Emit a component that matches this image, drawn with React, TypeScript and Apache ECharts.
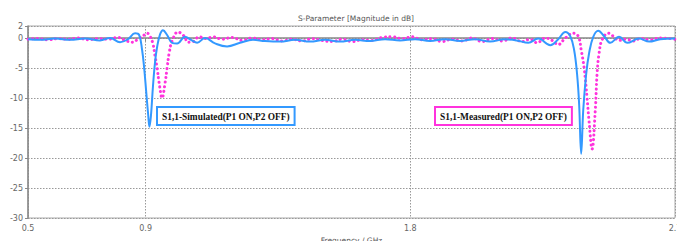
import React, { useEffect, useRef } from "react";
import * as echarts from "echarts";

const simFreq = [0.5, 0.541, 0.592, 0.643, 0.694, 0.745, 0.779, 0.813, 0.84, 0.864, 0.878, 0.888, 0.895, 0.902, 0.909, 0.913, 0.918, 0.925, 0.932, 0.939, 0.949, 0.959, 0.973, 0.99, 1.007, 1.034, 1.054, 1.075, 1.102, 1.136, 1.177, 1.221, 1.265, 1.306, 1.357, 1.408, 1.459, 1.51, 1.561, 1.612, 1.663, 1.714, 1.765, 1.816, 1.867, 1.918, 1.969, 2.02, 2.071, 2.122, 2.162, 2.201, 2.235, 2.276, 2.303, 2.327, 2.344, 2.357, 2.367, 2.374, 2.381, 2.388, 2.398, 2.408, 2.422, 2.439, 2.459, 2.48, 2.51, 2.537, 2.578, 2.612, 2.65, 2.7];
const simDb = [-0.2, -0.3, -0.1, -0.3, -0.1, -0.4, 0.0, -0.7, -0.2, 0.8, 0.5, -2, -5, -9, -13, -14.8, -13, -8, -4, -1.5, 0.6, 1.3, 0.5, -0.8, -0.9, 0.2, -0.3, -0.8, 0.0, -0.9, -1.4, -0.8, -0.3, -0.5, -0.6, -0.3, -0.6, -0.3, -0.6, -0.3, -0.5, -0.2, -0.4, -0.2, -0.5, -0.2, -0.5, -0.2, -0.6, -0.2, -0.4, -0.8, -0.1, -1.2, -0.2, 1.0, 0.3, -2, -6, -11, -19.3, -12, -6, -2.5, 0.2, 1.2, 0.3, -0.8, 0.2, -0.8, -0.1, -0.6, -0.2, -0.1];

const measFreq = [0.5, 0.534, 0.568, 0.602, 0.636, 0.67, 0.704, 0.738, 0.772, 0.806, 0.83, 0.854, 0.874, 0.895, 0.905, 0.915, 0.925, 0.932, 0.939, 0.946, 0.956, 0.966, 0.973, 0.98, 0.99, 1.01, 1.031, 1.044, 1.061, 1.082, 1.105, 1.129, 1.16, 1.194, 1.228, 1.262, 1.296, 1.33, 1.364, 1.398, 1.432, 1.466, 1.5, 1.534, 1.568, 1.602, 1.636, 1.67, 1.704, 1.738, 1.772, 1.806, 1.84, 1.874, 1.908, 1.942, 1.976, 2.01, 2.044, 2.078, 2.112, 2.146, 2.18, 2.207, 2.231, 2.259, 2.282, 2.303, 2.327, 2.354, 2.371, 2.381, 2.391, 2.401, 2.408, 2.418, 2.429, 2.435, 2.442, 2.452, 2.473, 2.49, 2.51, 2.534, 2.558, 2.582, 2.616, 2.65, 2.7];
const measDb = [-0.2, -0.1, -0.3, -0.1, -0.2, 0.0, -0.3, -0.1, -0.2, 0.1, -0.4, -0.7, -0.2, 0.5, 0.8, 0.3, -1, -3, -5, -7.5, -10, -7.5, -5, -2.5, -0.5, 1.0, 0.3, -0.7, -0.6, 0.2, -0.1, 0.2, -0.2, 0.1, -0.4, 0.0, -0.3, -0.1, -0.5, -0.2, -0.5, -0.1, -0.4, -0.6, -0.2, -0.6, -0.3, -0.4, 0.1, 0.2, -0.1, 0.2, -0.3, -0.1, -0.6, -0.2, -0.5, 0.0, -0.6, -0.1, -0.5, 0.0, -0.6, -0.2, -0.8, 0.0, -0.4, -1.1, 0.0, 0.8, 0.3, -2, -5, -10, -14, -18.5, -12, -6, -2.5, -0.3, 0.8, 0.3, -0.4, -0.2, -0.5, -0.1, -0.3, 0.0, -0.2];

const xTicks = [0.5, 0.9, 1.8, 2.7];
const yTicks = [-30, -25, -20, -15, -10, -5, 0, 2];

const titleText = "S-Parameter [Magnitude in dB]";
const xName = "Frequency / GHz";
const simLabel = "S1,1-Simulated(P1 ON,P2 OFF)";
const measLabel = "S1,1-Measured(P1 ON,P2 OFF)";

export default function App() {
  const ref = useRef<HTMLDivElement>(null);
  useEffect(() => {
    if (!ref.current) return;
    const chart = echarts.init(ref.current, undefined, { renderer: "svg" });
    const labelStyle = { color: "#666", fontSize: 8, fontFamily: "DejaVu Sans" };
    chart.setOption({
      animation: false,
      title: {
        text: titleText,
        left: 351,
        top: 9,
        textAlign: "center",
        textStyle: { fontSize: 7.5, fontWeight: "normal", color: "#555", fontFamily: "DejaVu Sans" },
      },
      grid: {
        left: 28, top: 26, right: 2, bottom: 23,
        outerBoundsMode: "none",
        containLabel: false,
        show: true, borderColor: "#aaa", borderWidth: 1, backgroundColor: "transparent",
      },
      xAxis: {
        type: "value",
        min: 0.5,
        max: 2.7,
        name: xName,
        nameLocation: "middle",
        nameGap: 18,
        nameTextStyle: { fontSize: 7.5, color: "#555", fontFamily: "DejaVu Sans" },
        axisLine: { lineStyle: { color: "#888", width: 1.5 } },
        axisTick: { show: true, length: 3, customValues: xTicks, lineStyle: { color: "#888" } },
        axisLabel: { ...labelStyle, customValues: xTicks, margin: 6 },
        splitLine: { show: true, lineStyle: { type: [1.5, 1.5], color: "#999", width: 1 } },
      },
      yAxis: {
        type: "value",
        min: -30,
        max: 2,
        axisLine: { show: true, lineStyle: { color: "#888", width: 1.5 } },
        axisTick: { show: true, length: 3, customValues: yTicks, lineStyle: { color: "#888" } },
        axisLabel: { ...labelStyle, customValues: yTicks, margin: 5 },
        splitLine: { show: true, lineStyle: { type: [1.5, 1.5], color: "#999", width: 1 } },
      },
      series: [
        {
          type: "line",
          data: simFreq.map((f, i) => [f, simDb[i]]),
          smooth: 0.4,
          showSymbol: false,
          lineStyle: { color: "#3399ff", width: 2 },
          z: 3,
        },
        {
          type: "line",
          data: measFreq.map((f, i) => [f, measDb[i]]),
          smooth: 0.4,
          showSymbol: false,
          lineStyle: { color: "#ff33dd", width: 3, type: [0.1, 4.5], cap: "round" },
          z: 2,
        },
      ],
      graphic: [
        {
          type: "text",
          left: 156,
          top: 106,
          z: 10,
          style: {
            text: simLabel,
            font: "bold 9.4px 'Liberation Serif'",
            fill: "#111",
            backgroundColor: "#fff",
            borderColor: "#3399ff",
            borderWidth: 2,
            padding: [4, 4, 3, 4],
          },
        },
        {
          type: "text",
          left: 434,
          top: 106,
          z: 10,
          style: {
            text: measLabel,
            font: "bold 9.4px 'Liberation Serif'",
            fill: "#111",
            backgroundColor: "#fff",
            borderColor: "#ff33dd",
            borderWidth: 2,
            padding: [4, 4, 3, 4],
          },
        },
      ],
    });
    return () => chart.dispose();
  }, []);
  return <div ref={ref} style={{ position: "absolute", left: 0, top: 0, width: 677, height: 241 }} />;
}
